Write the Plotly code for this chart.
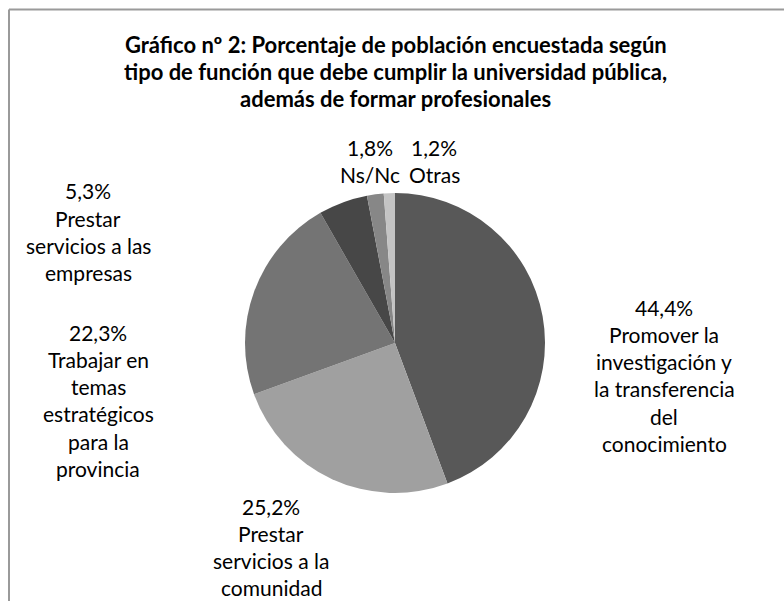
import plotly.graph_objects as go

# ---- data ----
categories = [
    "Promover la investigación y la transferencia del conocimiento",
    "Prestar servicios a la comunidad",
    "Trabajar en temas estratégicos para la provincia",
    "Prestar servicios a las empresas",
    "Ns/Nc",
    "Otras",
]
values = [44.4, 25.2, 22.3, 5.3, 1.8, 1.2]
label_lines = [
    ["Promover la", "investigación y", "la transferencia", "del", "conocimiento"],
    ["Prestar", "servicios a la", "comunidad"],
    ["Trabajar en", "temas", "estratégicos", "para la", "provincia"],
    ["Prestar", "servicios a las", "empresas"],
    ["Ns/Nc"],
    ["Otras"],
]
title_lines = [
    "Gráfico nº 2: Porcentaje de población encuestada según",
    "tipo de función que debe cumplir la universidad pública,",
    "además de formar profesionales",
]

# ---- style / layout ----
W, H = 784, 601
colors = ["#585858", "#a0a0a0", "#747474", "#474747", "#878787", "#c4c4c4"]
FONT = "Lato"
cx, cy, r = 395, 343, 150
label_pos = [(664, 307), (271, 506), (98, 332), (88, 191), (370, 147), (434, 147)]
line_h = 27.3


def px(x):
    return x / W


def py(y):
    return 1 - y / H


fig = go.Figure(
    go.Pie(
        labels=categories,
        values=values,
        sort=False,
        direction="clockwise",
        rotation=0,
        textinfo="none",
        hoverinfo="label+percent",
        marker=dict(colors=colors, line=dict(width=0)),
        domain=dict(x=[px(cx - r), px(cx + r)], y=[py(cy + r), py(cy - r)]),
        showlegend=False,
    )
)

annotations = []
for i, t in enumerate(title_lines):
    annotations.append(dict(
        text="<b>" + t + "</b>", x=px(396), y=py(44 + i * line_h),
        xref="paper", yref="paper", xanchor="center", yanchor="middle",
        showarrow=False, font=dict(family=FONT, size=22, color="#000000"),
    ))

for v, lines, (lx, ly) in zip(values, label_lines, label_pos):
    all_lines = [f"{v:.1f}%".replace(".", ",")] + lines
    for j, t in enumerate(all_lines):
        annotations.append(dict(
            text=t, x=px(lx), y=py(ly + j * line_h),
            xref="paper", yref="paper", xanchor="center", yanchor="middle",
            showarrow=False, borderpad=0,
            font=dict(family=FONT, size=21, color="#000000"),
        ))

shapes = [
    dict(type="line", xref="paper", yref="paper", x0=px(9), x1=1.01, y0=py(9.5), y1=py(9.5),
         line=dict(color="#9a9a9a", width=2)),
    dict(type="line", xref="paper", yref="paper", x0=px(9), x1=px(9), y0=py(9.5), y1=-0.01,
         line=dict(color="#9a9a9a", width=2)),
]

fig.update_layout(
    width=W, height=H,
    margin=dict(l=0, r=0, t=0, b=0),
    paper_bgcolor="#ffffff",
    plot_bgcolor="#ffffff",
    annotations=annotations,
    shapes=shapes,
    font=dict(family=FONT),
)

fig.write_html(
    "out.html",
    config={"displayModeBar": False},
    post_script="document.body.style.margin='0';document.body.style.overflow='hidden';",
)
